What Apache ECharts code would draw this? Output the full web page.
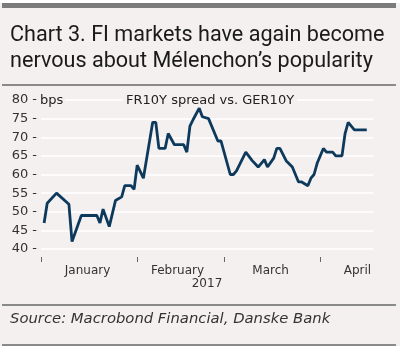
<!DOCTYPE html>
<html>
<head>
<meta charset="utf-8">
<script src="https://cdn.jsdelivr.net/npm/echarts@6/dist/echarts.min.js"></script>
<style>
    html, body { margin: 0; padding: 0; background: #ffffff; }
    #chart { width: 400px; height: 353px; }
</style>
</head>
<body>
<div id="chart"></div>
<script>
var obsDates = ['2017-01-02', '2017-01-03', '2017-01-06', '2017-01-10', '2017-01-11', '2017-01-14',
    '2017-01-19', '2017-01-20', '2017-01-21', '2017-01-23', '2017-01-25', '2017-01-27', '2017-01-28',
    '2017-01-30', '2017-01-31', '2017-02-01', '2017-02-03', '2017-02-04', '2017-02-06', '2017-02-07',
    '2017-02-08', '2017-02-10', '2017-02-11', '2017-02-13', '2017-02-16', '2017-02-17', '2017-02-18',
    '2017-02-19', '2017-02-21', '2017-02-22', '2017-02-24', '2017-02-27', '2017-02-28', '2017-03-03',
    '2017-03-04', '2017-03-05', '2017-03-08', '2017-03-10', '2017-03-12', '2017-03-14', '2017-03-15',
    '2017-03-17', '2017-03-18', '2017-03-19', '2017-03-21', '2017-03-23', '2017-03-25', '2017-03-26',
    '2017-03-28', '2017-03-29', '2017-03-30', '2017-03-31', '2017-04-02', '2017-04-03', '2017-04-05',
    '2017-04-06', '2017-04-08', '2017-04-09', '2017-04-10', '2017-04-12', '2017-04-16'];
var spread = [47, 52.3, 55, 52, 42, 49,
    49, 47, 50.7, 46, 53, 54, 57,
    57, 56, 62.5, 59, 64, 74, 74,
    67, 67, 71, 68, 68, 66, 73,
    74.7, 77.8, 75.5, 75, 69, 69, 60,
    60, 61, 66, 63.8, 62, 64, 62,
    64.4, 67, 67, 63.7, 62, 58, 58,
    57, 59, 60, 63, 67, 66, 66,
    65, 65, 71, 74, 72, 72];
var monthNames = ['January', 'February', 'March', 'April'];
var labelDays = ['2017-01-16', '2017-02-14', '2017-03-16', '2017-04-13'];
var yTicks = [40, 45, 50, 55, 60, 65, 70, 75, 80];

var bg = '#f5f0f0';
var fmt = function (d) {
    var m = d.getMonth() + 1, day = d.getDate();
    return d.getFullYear() + '-' + (m < 10 ? '0' + m : m) + '-' + (day < 10 ? '0' + day : day);
};

// every calendar day from Jan 1 to Apr 18
var days = [];
for (var t = new Date(2017, 0, 1); t <= new Date(2017, 3, 18); t.setDate(t.getDate() + 1)) {
    days.push(fmt(t));
}
var lineData = days.map(function (d) {
    var i = obsDates.indexOf(d);
    return i >= 0 ? spread[i] : null;
});

var myChart = echarts.init(document.getElementById('chart'));
var option = {
    backgroundColor: bg,
    animation: false,
    textStyle: { fontFamily: 'DejaVu Sans' },
    grid: { left: 41, right: 27, top: 100, bottom: 104 },
    graphic: [
        { type: 'rect', shape: { x: 0, y: 0, width: 400, height: 3 }, style: { fill: '#ffffff' } },
        { type: 'rect', shape: { x: 2, y: 3, width: 394, height: 5 }, style: { fill: '#7b7b7b' } },
        { type: 'rect', shape: { x: 2, y: 84, width: 394, height: 2 }, style: { fill: '#8a8a8a' } },
        { type: 'rect', shape: { x: 2, y: 304, width: 394, height: 2 }, style: { fill: '#8a8a8a' } },
        { type: 'rect', shape: { x: 2, y: 344, width: 394, height: 2 }, style: { fill: '#8a8a8a' } },
        { type: 'rect', shape: { x: 0, y: 346, width: 400, height: 7 }, style: { fill: '#ffffff' } },
        { type: 'text', left: 10, top: 23, style: {
            text: 'Chart 3. FI markets have again become\nnervous about Mélenchon’s popularity',
            font: '21.6px Roboto', fill: '#1a1a1a', lineHeight: 26 } },
        { type: 'text', left: 38, top: 94, z: 10, style: { text: 'bps', font: '13px DejaVu Sans', fill: '#222',
            backgroundColor: bg, padding: [0, 2, 0, 2] } },
        { type: 'text', left: 123, top: 94, z: 10, style: { text: 'FR10Y spread vs. GER10Y', font: '13px DejaVu Sans',
            fill: '#222', backgroundColor: bg, padding: [0, 3, 0, 3] } },
        { type: 'text', left: 10, top: 312, style: {
            text: 'Source: Macrobond Financial, Danske Bank', font: 'italic 14.8px DejaVu Sans', fill: '#333' } }
    ],
    xAxis: {
        type: 'category',
        data: days,
        boundaryGap: false,
        offset: 8,
        name: '2017',
        nameLocation: 'middle',
        nameGap: 21,
        nameTextStyle: { fontSize: 12, color: '#333' },
        axisLine: { show: false },
        axisTick: {
            length: 5,
            lineStyle: { color: '#666' },
            interval: function (i, v) { return v.slice(8) === '01'; }
        },
        axisLabel: {
            margin: 8,
            fontSize: 12,
            color: '#333',
            interval: function (i, v) { return labelDays.indexOf(v) >= 0; },
            formatter: function (v) { return monthNames[labelDays.indexOf(v)] || ''; }
        },
        splitLine: { show: false }
    },
    yAxis: {
        type: 'value',
        min: yTicks[0],
        max: yTicks[yTicks.length - 1],
        interval: 5,
        axisLine: { show: false },
        axisTick: { show: false },
        axisLabel: {
            margin: 4,
            fontSize: 13,
            color: '#333',
            formatter: function (v) { return v + ' -'; }
        },
        splitLine: { lineStyle: { color: '#ffffff', width: 1.5 } }
    },
    series: [{
        type: 'line',
        data: lineData,
        connectNulls: true,
        showSymbol: false,
        lineStyle: { color: '#0d3a5c', width: 2.8 }
    }]
};
myChart.setOption(option);
</script>
</body>
</html>
